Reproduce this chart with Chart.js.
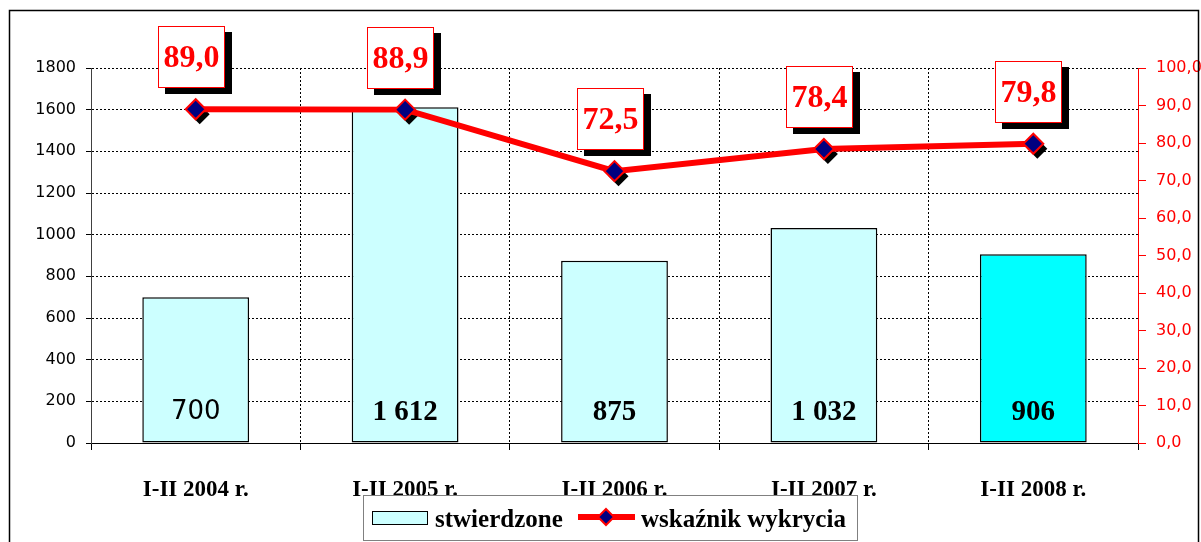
<!DOCTYPE html>
<html>
<head>
<meta charset="utf-8">
<script src="https://cdn.jsdelivr.net/npm/chart.js@4.4.1/dist/chart.umd.min.js"></script>
<style>
  html, body { margin: 0; padding: 0; background: #fff; }
  #wrap { width: 1201px; height: 542px; }
</style>
</head>
<body>
<div id="wrap"><canvas id="chart" width="1201" height="542"></canvas></div>
<script>
// dane
const categories = ['I-II 2004 r.', 'I-II 2005 r.', 'I-II 2006 r.', 'I-II 2007 r.', 'I-II 2008 r.'];
const stwierdzone = [700, 1612, 875, 1032, 906];
const wskaznik = [89.0, 88.9, 72.5, 78.4, 79.8];
const barLabels = ['700', '1 612', '875', '1 032', '906'];
const leftMax = 1800, leftStep = 200;
const rightMax = 100, rightStep = 10;

const SERIF = "'Liberation Serif', 'DejaVu Serif', serif";
const SANS = "'DejaVu Sans', sans-serif";

function diamond(ctx, x, y, r) {
    ctx.beginPath();
    ctx.moveTo(x, y - r);
    ctx.lineTo(x + r, y);
    ctx.lineTo(x, y + r);
    ctx.lineTo(x - r, y);
    ctx.closePath();
}

const decorPlugin = {
    id: 'decor',
    beforeDatasetDraw(chart, args) {
        if (args.index !== 1) return;
        // cień pod punktami
        const ctx = chart.ctx;
        ctx.save();
        ctx.fillStyle = '#000';
        chart.getDatasetMeta(1).data.forEach(p => {
            diamond(ctx, p.x + 4, p.y + 5, 10);
            ctx.fill();
        });
        ctx.restore();
    },
    afterDatasetsDraw(chart) {
        const ctx = chart.ctx;
        ctx.save();
        // etykiety słupków
        chart.getDatasetMeta(0).data.forEach((bar, i) => {
            ctx.fillStyle = '#000';
            ctx.textAlign = 'center';
            ctx.textBaseline = 'middle';
            ctx.font = i === 0 ? '26px ' + SANS : 'bold 29px ' + SERIF;
            ctx.fillText(barLabels[i], bar.x, bar.base - 30);
        });
        // etykiety wskaźnika w ramkach
        chart.getDatasetMeta(1).data.forEach((p, i) => {
            const txt = wskaznik[i].toFixed(1).replace('.', ',');
            ctx.font = 'bold 32px ' + SERIF;
            const w = 67, h = 62;
            const bx = Math.round(p.x - 4.5 - w / 2), by = Math.round(p.y - 21 - h);
            ctx.fillStyle = '#000';
            ctx.fillRect(bx + 7, by + 6, w, h);
            ctx.fillStyle = '#fff';
            ctx.fillRect(bx, by, w, h);
            ctx.strokeStyle = '#ff0000';
            ctx.lineWidth = 1;
            ctx.strokeRect(bx + 0.5, by + 0.5, w - 1, h - 1);
            ctx.fillStyle = '#ff0000';
            ctx.textAlign = 'center';
            ctx.textBaseline = 'middle';
            ctx.fillText(txt, bx + w / 2, by + h / 2 + 2);
        });
        ctx.restore();
    },
    afterDraw(chart) {
        const ctx = chart.ctx;
        ctx.save();
        // legenda
        ctx.strokeStyle = '#808080';
        ctx.lineWidth = 1;
        ctx.fillStyle = '#fff';
        ctx.fillRect(363, 495, 494, 45);
        ctx.strokeRect(363.5, 495.5, 494, 45);
        ctx.fillStyle = '#ccffff';
        ctx.fillRect(372, 511, 55, 13);
        ctx.strokeStyle = '#000';
        ctx.strokeRect(372.5, 511.5, 55, 13);
        ctx.fillStyle = '#000';
        ctx.font = 'bold 25px ' + SERIF;
        ctx.textAlign = 'left';
        ctx.textBaseline = 'alphabetic';
        ctx.fillText('stwierdzone', 435, 527);
        ctx.strokeStyle = '#ff0000';
        ctx.lineWidth = 6;
        ctx.beginPath();
        ctx.moveTo(578, 517);
        ctx.lineTo(635, 517);
        ctx.stroke();
        diamond(ctx, 606, 517, 8);
        ctx.fillStyle = '#000080';
        ctx.fill();
        ctx.lineWidth = 2;
        ctx.stroke();
        ctx.fillStyle = '#000';
        ctx.fillText('wskaźnik wykrycia', 641, 527);
        // ramka wykresu
        ctx.strokeStyle = '#000';
        ctx.lineWidth = 1.5;
        ctx.strokeRect(9.5, 10.5, 1189, 545);
        ctx.restore();
    }
};

new Chart(document.getElementById('chart').getContext('2d'), {
    data: {
        labels: categories,
        datasets: [
            {
                type: 'bar',
                label: 'stwierdzone',
                data: stwierdzone,
                yAxisID: 'y',
                backgroundColor: ['#ccffff', '#ccffff', '#ccffff', '#ccffff', '#00ffff'],
                borderColor: '#000',
                borderWidth: 1.5,
                borderSkipped: false,
                barPercentage: 0.51,
                categoryPercentage: 1.0,
                order: 1
            },
            {
                type: 'line',
                label: 'wskaźnik wykrycia',
                data: wskaznik,
                yAxisID: 'y1',
                borderColor: '#ff0000',
                borderWidth: 6,
                tension: 0,
                pointStyle: 'rectRot',
                pointRadius: 10,
                pointBackgroundColor: '#000080',
                pointBorderColor: '#ff0000',
                pointBorderWidth: 2,
                order: 0
            }
        ]
    },
    options: {
        responsive: false,
        animation: false,
        events: [],
        layout: { padding: { top: 68, left: 10, right: 0, bottom: 0 } },
        plugins: {
            legend: { display: false },
            tooltip: { enabled: false }
        },
        scales: {
            x: {
                offset: true,
                grid: { offset: true, color: '#000', lineWidth: 1, tickLength: 7, tickColor: '#000' },
                border: { display: true, color: '#000', width: 1, dash: [2, 2] },
                ticks: { color: '#000', padding: 26, font: { family: SERIF, size: 23, weight: 'bold' } },
                afterFit(scale) { scale.height = 99; }
            },
            y: {
                position: 'left',
                min: 0,
                max: leftMax,
                ticks: {
                    stepSize: leftStep,
                    color: '#000',
                    padding: 10,
                    font: { family: SANS, size: 16 },
                    callback: v => String(v)
                },
                grid: { color: '#000', lineWidth: 1, tickLength: 5, tickColor: '#000' },
                border: { display: true, color: '#404040', width: 1, dash: [2, 2] },
                afterFit(scale) { scale.width = 81; }
            },
            y1: {
                position: 'right',
                min: 0,
                max: rightMax,
                ticks: {
                    stepSize: rightStep,
                    color: '#ff0000',
                    padding: 10,
                    font: { family: SANS, size: 16 },
                    callback: v => v.toFixed(1).replace('.', ',')
                },
                grid: { drawOnChartArea: false, tickLength: 8, tickColor: '#ff0000' },
                border: { display: true, color: '#ff0000', width: 1 },
                afterFit(scale) { scale.width = 63; }
            }
        }
    },
    plugins: [decorPlugin]
});
</script>
</body>
</html>
